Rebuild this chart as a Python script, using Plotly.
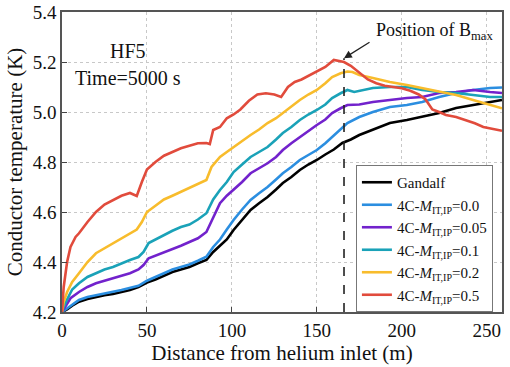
import plotly.graph_objects as go

# ---- data ----
gandalf_x = [0, 3, 6, 10, 15, 20, 25, 30, 35, 40, 45, 50, 55, 60, 65, 70, 75, 80, 85, 89, 93, 97, 101, 106, 111, 116, 121, 126, 130, 135, 140, 145, 150, 155, 160, 165, 170, 175, 183, 193, 203, 212, 222, 232, 242, 252, 259]
gandalf_y = [4.20, 4.21, 4.225, 4.241, 4.252, 4.261, 4.267, 4.272, 4.28, 4.288, 4.30, 4.318, 4.33, 4.345, 4.36, 4.37, 4.38, 4.395, 4.408, 4.44, 4.465, 4.49, 4.528, 4.57, 4.608, 4.635, 4.66, 4.69, 4.716, 4.74, 4.768, 4.79, 4.808, 4.83, 4.85, 4.876, 4.89, 4.908, 4.928, 4.956, 4.968, 4.98, 4.996, 5.016, 5.028, 5.04, 5.048]

m00_x = [0, 3, 6, 10, 15, 20, 25, 30, 35, 40, 45, 50, 55, 60, 65, 70, 75, 80, 85, 89, 93, 97, 101, 106, 111, 116, 121, 126, 130, 135, 140, 145, 150, 155, 159, 164, 168, 175, 183, 193, 203, 212, 222, 232, 242, 252, 259]
m00_y = [4.20, 4.215, 4.23, 4.248, 4.26, 4.268, 4.275, 4.281, 4.288, 4.295, 4.305, 4.325, 4.34, 4.355, 4.37, 4.38, 4.39, 4.405, 4.421, 4.46, 4.49, 4.53, 4.568, 4.61, 4.648, 4.675, 4.70, 4.73, 4.755, 4.78, 4.808, 4.828, 4.848, 4.875, 4.90, 4.935, 4.956, 4.98, 5.00, 5.02, 5.028, 5.04, 5.06, 5.076, 5.088, 5.096, 5.098]

m005_x = [0, 2, 5, 10, 15, 20, 25, 30, 35, 40, 45, 48, 51, 55, 60, 65, 70, 75, 80, 85, 89, 93, 97, 101, 106, 111, 116, 121, 126, 130, 135, 140, 145, 150, 155, 159, 164, 168, 175, 183, 193, 203, 212, 222, 232, 242, 252, 259]
m005_y = [4.20, 4.22, 4.255, 4.28, 4.30, 4.315, 4.325, 4.335, 4.345, 4.355, 4.37, 4.388, 4.415, 4.425, 4.44, 4.452, 4.465, 4.48, 4.495, 4.52, 4.58, 4.635, 4.665, 4.688, 4.72, 4.755, 4.775, 4.795, 4.82, 4.848, 4.875, 4.90, 4.925, 4.948, 4.97, 4.996, 5.015, 5.028, 5.03, 5.04, 5.048, 5.056, 5.06, 5.076, 5.08, 5.088, 5.08, 5.076]

m01_x = [0, 1, 3, 6, 10, 15, 20, 25, 30, 35, 40, 45, 48, 51, 55, 60, 65, 70, 75, 80, 85, 89, 93, 97, 101, 106, 111, 116, 121, 126, 130, 135, 140, 145, 150, 155, 159, 164, 168, 172, 178, 183, 193, 203, 212, 222, 232, 242, 252, 259]
m01_y = [4.20, 4.22, 4.25, 4.29, 4.315, 4.34, 4.355, 4.37, 4.38, 4.395, 4.408, 4.42, 4.44, 4.476, 4.49, 4.51, 4.525, 4.54, 4.55, 4.57, 4.595, 4.65, 4.688, 4.72, 4.76, 4.79, 4.82, 4.84, 4.86, 4.89, 4.916, 4.94, 4.968, 4.99, 5.008, 5.03, 5.056, 5.075, 5.088, 5.08, 5.09, 5.096, 5.10, 5.10, 5.088, 5.08, 5.076, 5.068, 5.06, 5.06]

m02_x = [0, 1, 3, 6, 10, 15, 20, 25, 30, 35, 40, 44, 47, 50, 55, 60, 65, 70, 75, 80, 85, 88, 93, 97, 101, 106, 111, 116, 121, 126, 130, 135, 140, 145, 150, 155, 159, 164, 168, 171, 175, 183, 193, 203, 212, 222, 232, 242, 252, 259]
m02_y = [4.20, 4.24, 4.28, 4.32, 4.355, 4.40, 4.435, 4.455, 4.475, 4.495, 4.515, 4.53, 4.56, 4.60, 4.625, 4.65, 4.665, 4.68, 4.695, 4.712, 4.728, 4.78, 4.82, 4.84, 4.86, 4.885, 4.908, 4.93, 4.956, 4.975, 4.996, 5.02, 5.048, 5.07, 5.088, 5.115, 5.14, 5.155, 5.162, 5.16, 5.148, 5.136, 5.12, 5.108, 5.096, 5.08, 5.068, 5.048, 5.028, 5.015]

m05_x = [0, 1, 3, 5, 8, 10, 15, 20, 25, 30, 35, 40, 44, 47, 50, 55, 60, 65, 70, 75, 80, 85, 87, 89, 93, 97, 101, 105, 110, 115, 120, 125, 129, 133, 137, 141, 146, 150, 155, 160, 163, 166, 170, 175, 180, 185, 190, 195, 200, 205, 210, 214, 218, 222, 226, 232, 238, 243, 248, 253, 259]
m05_y = [4.20, 4.30, 4.40, 4.46, 4.50, 4.515, 4.56, 4.60, 4.63, 4.648, 4.665, 4.676, 4.664, 4.72, 4.77, 4.80, 4.825, 4.84, 4.855, 4.865, 4.875, 4.876, 4.872, 4.928, 4.94, 4.975, 4.99, 5.01, 5.045, 5.07, 5.075, 5.07, 5.06, 5.10, 5.12, 5.13, 5.148, 5.165, 5.18, 5.208, 5.205, 5.20, 5.185, 5.156, 5.13, 5.115, 5.105, 5.10, 5.095, 5.085, 5.07, 5.05, 5.01, 5.00, 4.988, 4.98, 4.968, 4.955, 4.94, 4.932, 4.925]

SUB = '<sub><span style="font-size:10px">IT,IP</span></sub>'
series_names = ["Gandalf",
                "4C-<i>M</i>" + SUB + "=0.0",
                "4C-<i>M</i>" + SUB + "=0.05",
                "4C-<i>M</i>" + SUB + "=0.1",
                "4C-<i>M</i>" + SUB + "=0.2",
                "4C-<i>M</i>" + SUB + "=0.5"]
series_x = [gandalf_x, m00_x, m005_x, m01_x, m02_x, m05_x]
series_y = [gandalf_y, m00_y, m005_y, m01_y, m02_y, m05_y]
colors = ["#000000", "#2B8EE0", "#7222CC", "#1AA2B8", "#F8BC2C", "#E14B3C"]

x_ticks = [0, 50, 100, 150, 200, 250]
y_ticks = [4.2, 4.4, 4.6, 4.8, 5.0, 5.2, 5.4]
bmax_pos = 166
bmax_top = 5.215

FONT = "Liberation Serif"

fig = go.Figure()
for name, xs, ys, c in zip(series_names, series_x, series_y, colors):
    fig.add_trace(go.Scatter(x=xs, y=ys, mode="lines", name=name,
                             line=dict(color=c, width=2.6)))

fig.add_shape(type="line", xref="x", yref="y", x0=bmax_pos, x1=bmax_pos,
              y0=4.2, y1=bmax_top, line=dict(color="#222", width=1.6, dash="dash"))

fig.add_annotation(x=bmax_pos, y=bmax_top, xref="x", yref="y",
                   ax=27, ay=-17, axref="pixel", ayref="pixel",
                   text="", showarrow=True, arrowhead=2, arrowsize=1.2,
                   arrowwidth=1.3, arrowcolor="#222")
fig.add_annotation(x=0.71, y=1.0, xref="paper", yref="paper",
                   text="Position of B<sub>max</sub>", showarrow=False,
                   xanchor="left", yanchor="top", yshift=-6,
                   font=dict(family=FONT, size=18, color="#111"))
fig.add_annotation(x=0.15, y=0.87, xref="paper", yref="paper",
                   text="HF5", showarrow=False, xanchor="center", yanchor="middle",
                   font=dict(family=FONT, size=20, color="#111"))
fig.add_annotation(x=0.15, y=0.78, xref="paper", yref="paper",
                   text="Time=5000 s", showarrow=False, xanchor="center", yanchor="middle",
                   font=dict(family=FONT, size=20, color="#111"))

fig.update_layout(
    width=510, height=367,
    margin=dict(l=62, r=8, t=12, b=55, autoexpand=False),
    paper_bgcolor="white", plot_bgcolor="white",
    font=dict(family=FONT, size=19, color="#111"),
    showlegend=True,
    legend=dict(x=0.668, y=0.49, xanchor="left", yanchor="top",
                bgcolor="white", bordercolor="#777", borderwidth=1,
                font=dict(family=FONT, size=15, color="#111"),
                tracegroupgap=0, itemwidth=30),
)
fig.update_xaxes(range=[0, 259], tickvals=x_ticks, ticks="inside", ticklen=5,
                 showline=True, linecolor="#555", linewidth=1.5, mirror=True,
                 showgrid=True, gridcolor="#c8c8c8", griddash="dot", gridwidth=1,
                 zeroline=False, automargin=False, ticklabeloverflow="allow",
                 title=dict(text="Distance from helium inlet (m)", standoff=0,
                            font=dict(family=FONT, size=21)))
fig.update_yaxes(range=[4.2, 5.4], tickvals=y_ticks, tickformat=".1f",
                 ticks="inside", ticklen=5,
                 showline=True, linecolor="#555", linewidth=1.5, mirror=True,
                 showgrid=True, gridcolor="#c8c8c8", griddash="dot", gridwidth=1,
                 zeroline=False, automargin=False, ticklabeloverflow="allow",
                 title=dict(text="Conductor temperature (K)", standoff=4,
                            font=dict(family=FONT, size=21)))

# remove the page's default 8px body margin so the 510x367 figure fills the window
fig.write_html("out.html", config={"displayModeBar": False},
               post_script="document.body.style.margin='0px';")
